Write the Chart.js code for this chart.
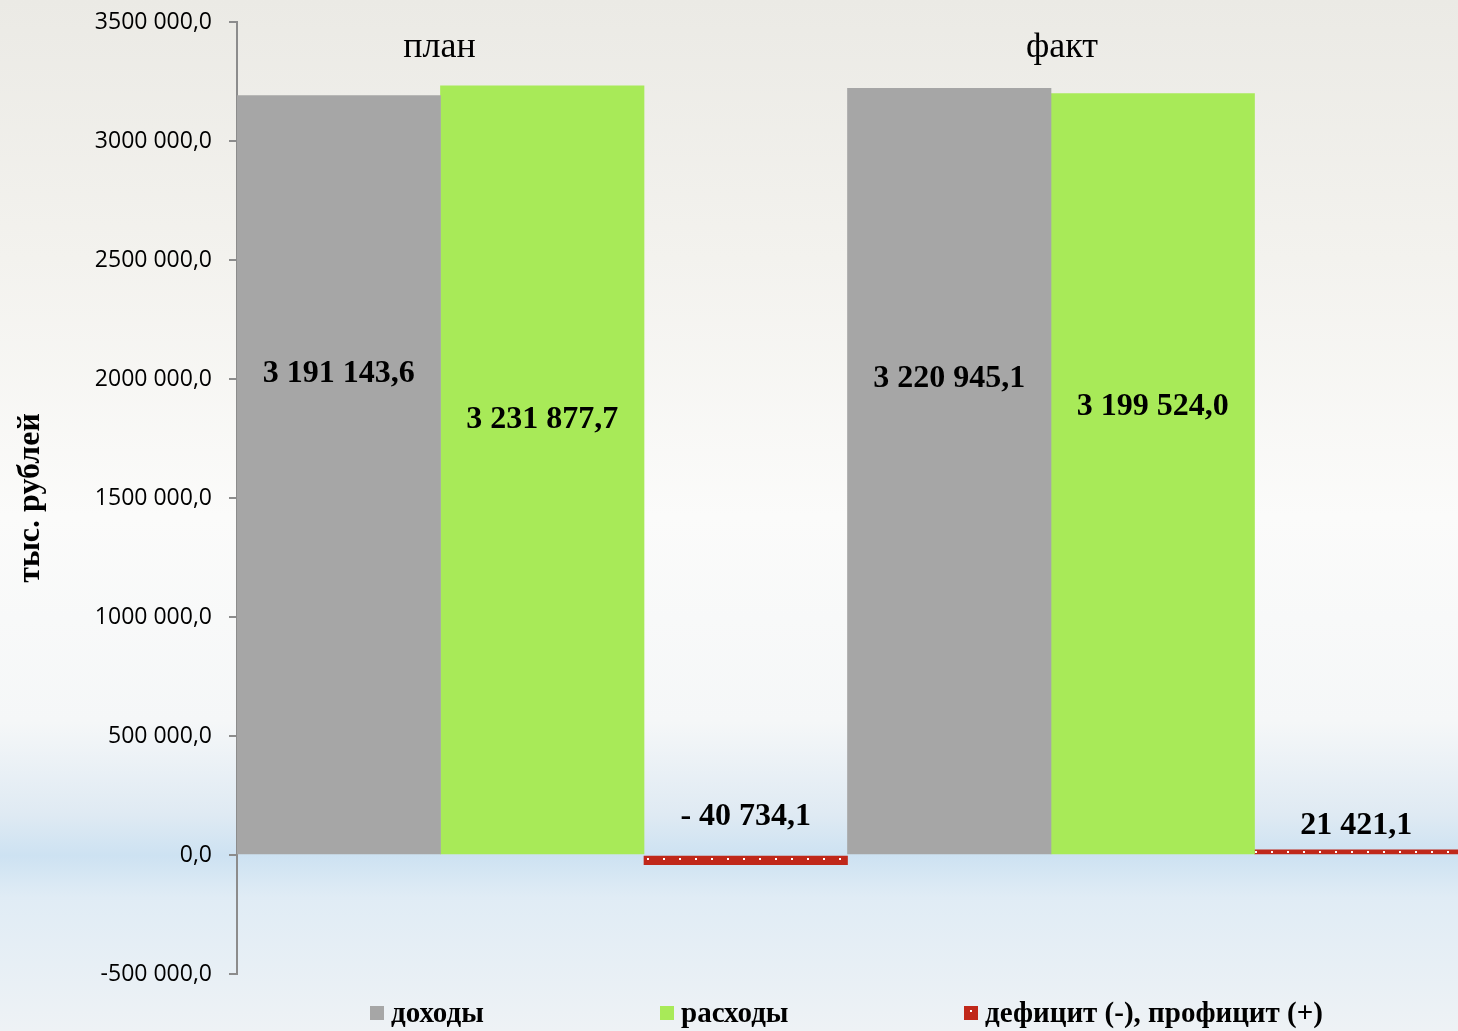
<!DOCTYPE html>
<html lang="ru">
<head>
  <meta charset="UTF-8">
  <title>Исполнение бюджета</title>
  <script src="https://cdn.jsdelivr.net/npm/chart.js"></script>
  <style>
    body { margin: 0; background: #fff; }
    #wrap { width: 1458px; height: 1031px; }
  </style>
</head>
<body>
  <div id="wrap"><canvas id="budgetChart" width="1458" height="1031"></canvas></div>
  <script>
    // данные графика
    const categories = ["план", "факт"];
    const seriesNames = ["доходы", "расходы", "дефицит (-), профицит (+)"];
    const incomeValues = [3191143.6, 3220945.1];
    const expenseValues = [3231877.7, 3199524.0];
    const balanceValues = [-40734.1, 21421.1];
    const yTicks = [-500000, 0, 500000, 1000000, 1500000, 2000000, 2500000, 3000000, 3500000];

    const serif = "'Liberation Serif', 'Times New Roman', serif";

    // красная заливка с белыми точками (как в оригинале)
    const makeDots = () => {
      const c = document.createElement("canvas");
      c.width = 16; c.height = 7;
      const g = c.getContext("2d");
      g.fillStyle = "#c0281a";
      g.fillRect(0, 0, 16, 7);
      g.fillStyle = "#ffffff";
      g.fillRect(7, 4, 2, 2);
      return g.createPattern(c, "repeat");
    };
    const dotFill = makeDots();

    // формат подписей: 3 191 143,6
    const fmtValue = v => {
      const s = Math.abs(v).toFixed(1).split(".");
      const intPart = s[0].replace(/\B(?=(\d{3})+(?!\d))/g, " ");
      return (v < 0 ? "- " : "") + intPart + "," + s[1];
    };
    // формат делений оси: 3500 000,0
    const fmtTick = v => {
      if (v === 0) return "0,0";
      return (v / 1000) + " 000,0";
    };

    // фон слайда
    const bgPlugin = {
      id: "bg",
      beforeDraw(chart) {
        const { ctx, width, height } = chart;
        const gr = ctx.createLinearGradient(0, 0, 0, height);
        gr.addColorStop(0, "#ebeae5");
        gr.addColorStop(0.25, "#f3f2ee");
        gr.addColorStop(0.5, "#fbfbfa");
        gr.addColorStop(0.7, "#f5f7f8");
        gr.addColorStop(0.79, "#dfeaf3");
        gr.addColorStop(0.83, "#cde2f2");
        gr.addColorStop(0.87, "#e0ecf5");
        gr.addColorStop(1, "#eef2f5");
        ctx.save();
        ctx.fillStyle = gr;
        ctx.fillRect(0, 0, width, height);
        ctx.restore();
      }
    };

    // подписи значений и категорий
    const labelPlugin = {
      id: "barLabels",
      afterDatasetsDraw(chart, args, opts) {
        const { ctx, scales } = chart;
        ctx.save();
        ctx.fillStyle = "#000";
        ctx.textAlign = "center";
        ctx.textBaseline = "middle";
        ctx.font = "bold 32px " + serif;
        chart.data.datasets.forEach((ds, di) => {
          const meta = chart.getDatasetMeta(di);
          meta.data.forEach((bar, i) => {
            const y = scales.y.getPixelForValue(opts.labelAt[di][i]);
            ctx.fillText(fmtValue(ds.data[i]), bar.x, y);
          });
        });
        // названия категорий вверху
        ctx.font = "36px " + serif;
        const m0 = chart.getDatasetMeta(0);
        chart.data.labels.forEach((lab, i) => {
          const b = m0.data[i];
          ctx.fillText(lab, b.x + b.width / 2 + opts.catShift[i], 48);
        });
        ctx.restore();
      }
    };

    // легенда внизу
    const legendPlugin = {
      id: "bottomLegend",
      afterDraw(chart, args, opts) {
        const { ctx, chartArea } = chart;
        ctx.save();
        ctx.font = "bold 29px " + serif;
        ctx.textBaseline = "middle";
        const y = 1014;
        chart.data.datasets.forEach((ds, i) => {
          const x = chartArea.left + opts.offsets[i];
          ctx.fillStyle = ds.legendColor;
          ctx.fillRect(x, y - 8, 14, 14);
          if (i === 2) {
            ctx.fillStyle = "#fff";
            ctx.fillRect(x + 6, y - 4, 2, 2);
          }
          ctx.fillStyle = "#000";
          ctx.fillText(ds.label, x + 21, y + 1);
        });
        ctx.restore();
      }
    };

    const ctx = document.getElementById("budgetChart").getContext("2d");
    new Chart(ctx, {
      type: "bar",
      data: {
        labels: categories,
        datasets: [
          { label: seriesNames[0], data: incomeValues, backgroundColor: "#a6a6a6", legendColor: "#a6a6a6" },
          { label: seriesNames[1], data: expenseValues, backgroundColor: "#a8ea58", legendColor: "#a8ea58" },
          { label: seriesNames[2], data: balanceValues, backgroundColor: dotFill, legendColor: "#c0281a" }
        ]
      },
      plugins: [bgPlugin, labelPlugin, legendPlugin],
      options: {
        responsive: false,
        animation: false,
        layout: { padding: { top: 22, right: 0, bottom: 57, left: 0 } },
        datasets: { bar: { categoryPercentage: 1.0, barPercentage: 1.0 } },
        plugins: {
          legend: { display: false },
          tooltip: { enabled: false },
          barLabels: {
            labelAt: [[2022000, 2000000], [1828000, 1885000], [160000, 122000]],
            catShift: [-1, 11]
          },
          bottomLegend: { offsets: [133, 423, 727] }
        },
        scales: {
          x: { display: false },
          y: {
            min: -500000,
            max: 3500000,
            afterBuildTicks: s => { s.ticks = yTicks.map(v => ({ value: v })); },
            afterFit: s => { s.width = 237; s.paddingTop = 0; s.paddingBottom = 0; },
            ticks: {
              color: "#000",
              font: { family: "'Open Sans', sans-serif", size: 23 },
              padding: 17,
              callback: v => fmtTick(v)
            },
            grid: { drawOnChartArea: false, drawTicks: true, tickLength: 8, color: "#8c8c8c", lineWidth: 2 },
            border: { color: "#8c8c8c", width: 2 },
            title: {
              display: true,
              text: "тыс. рублей",
              color: "#000",
              font: { family: serif, size: 32, weight: "bold" },
              padding: { top: 12, bottom: 0 }
            }
          }
        }
      }
    });
  </script>
</body>
</html>
